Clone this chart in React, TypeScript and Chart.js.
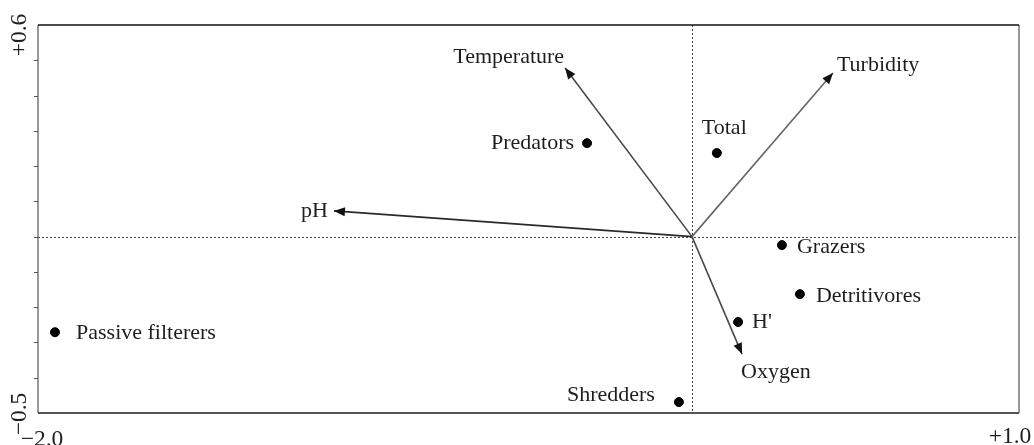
import React, { useEffect, useRef } from "react";
import { Chart, registerables } from "chart.js";

Chart.register(...registerables);

// ---- Data ----
const speciesNames = ["Predators", "Total", "Grazers", "Detritivores", "H'", "Passive filterers", "Shredders"];
const speciesX = [-0.321, 0.076, 0.275, 0.33, 0.141, -1.948, -0.04];
const speciesY = [0.265, 0.237, -0.024, -0.163, -0.242, -0.271, -0.469];

const envNames = ["Temperature", "Turbidity", "pH", "Oxygen"];
const envX = [-0.388, 0.431, -1.095, 0.153];
const envY = [0.478, 0.464, 0.073, -0.333];

const xMin = -2.0;
const xMax = 1.0;
const yMin = -0.5;
const yMax = 0.6;
const xTickLabels = ["\u22122.0", "+1.0"];
const yTickLabels = ["+0.6", "\u22120.5"];
const yTickMarks = [0.5, 0.4, 0.3, 0.2, 0.1, 0.0, -0.1, -0.2, -0.3, -0.4];

// ---- Styles (label placement) ----
const speciesLabelStyle: { align: CanvasTextAlign; dx: number; dy: number }[] = [
  { align: "right", dx: -13, dy: 0 },
  { align: "left", dx: -15, dy: -25 },
  { align: "left", dx: 15, dy: 2 },
  { align: "left", dx: 16, dy: 2 },
  { align: "left", dx: 14, dy: 0 },
  { align: "left", dx: 21, dy: 1 },
  { align: "right", dx: -24, dy: -7 },
];
const envLabelStyle: { align: CanvasTextAlign; dx: number; dy: number }[] = [
  { align: "right", dx: -1, dy: -11 },
  { align: "left", dx: 4, dy: -8 },
  { align: "right", dx: -6, dy: 0 },
  { align: "left", dx: -1, dy: 18 },
];
const envLineColors = ["#4a4a4a", "#666666", "#2a2a2a", "#4a4a4a"];

const FONT = "22px 'Liberation Serif', 'DejaVu Serif', serif";
const TICK_FONT = "23.5px 'Liberation Serif', 'DejaVu Serif', serif";
const TEXT_COLOR = "#1e1e1e";

const biplotPlugin = {
  id: "biplot",
  beforeDatasetsDraw(chart: any) {
    const { ctx, chartArea, scales } = chart;
    const x0 = scales.x.getPixelForValue(0);
    const y0 = scales.y.getPixelForValue(0);
    ctx.save();
    ctx.strokeStyle = "#444";
    ctx.lineWidth = 1;
    ctx.setLineDash([2, 2]);
    ctx.beginPath();
    ctx.moveTo(Math.round(x0) + 0.5, chartArea.top);
    ctx.lineTo(Math.round(x0) + 0.5, chartArea.bottom);
    ctx.moveTo(chartArea.left, Math.round(y0) + 0.5);
    ctx.lineTo(chartArea.right, Math.round(y0) + 0.5);
    ctx.stroke();
    ctx.restore();
  },
  afterDatasetsDraw(chart: any) {
    const { ctx, scales } = chart;
    const x0 = scales.x.getPixelForValue(0);
    const y0 = scales.y.getPixelForValue(0);
    ctx.save();
    // arrowheads
    ctx.fillStyle = "#111";
    envX.forEach((vx, i) => {
      const px = scales.x.getPixelForValue(vx);
      const py = scales.y.getPixelForValue(envY[i]);
      const ang = Math.atan2(py - y0, px - x0);
      const len = 11;
      const hw = 4.5;
      const bx = px - len * Math.cos(ang);
      const by = py - len * Math.sin(ang);
      ctx.beginPath();
      ctx.moveTo(px, py);
      ctx.lineTo(bx + hw * Math.sin(ang), by - hw * Math.cos(ang));
      ctx.lineTo(bx - hw * Math.sin(ang), by + hw * Math.cos(ang));
      ctx.closePath();
      ctx.fill();
    });
    // labels
    ctx.font = FONT;
    ctx.fillStyle = TEXT_COLOR;
    ctx.textBaseline = "middle";
    speciesNames.forEach((name, i) => {
      const px = scales.x.getPixelForValue(speciesX[i]);
      const py = scales.y.getPixelForValue(speciesY[i]);
      const s = speciesLabelStyle[i];
      ctx.textAlign = s.align;
      ctx.fillText(name, px + s.dx, py + s.dy);
    });
    envNames.forEach((name, i) => {
      const px = scales.x.getPixelForValue(envX[i]);
      const py = scales.y.getPixelForValue(envY[i]);
      const s = envLabelStyle[i];
      ctx.textAlign = s.align;
      ctx.fillText(name, px + s.dx, py + s.dy);
    });
    ctx.restore();
  },
  afterDraw(chart: any) {
    const { ctx, chartArea, scales } = chart;
    const { left, right, top, bottom } = chartArea;
    ctx.save();
    // frame
    ctx.setLineDash([]);
    ctx.lineWidth = 1.5;
    ctx.strokeStyle = "#777";
    ctx.beginPath();
    ctx.moveTo(left, top);
    ctx.lineTo(left, bottom);
    ctx.moveTo(right, top);
    ctx.lineTo(right, bottom);
    ctx.stroke();
    ctx.strokeStyle = "#111";
    ctx.beginPath();
    ctx.moveTo(left, top);
    ctx.lineTo(right, top);
    ctx.stroke();
    ctx.strokeStyle = "#555";
    ctx.lineWidth = 2;
    ctx.beginPath();
    ctx.moveTo(left, bottom);
    ctx.lineTo(right, bottom);
    ctx.stroke();
    // left tick marks
    ctx.strokeStyle = "#555";
    ctx.lineWidth = 1.2;
    ctx.beginPath();
    yTickMarks.forEach((v) => {
      const py = Math.round(scales.y.getPixelForValue(v)) + 0.5;
      ctx.moveTo(left - 4, py);
      ctx.lineTo(left, py);
    });
    ctx.stroke();
    // tick labels
    ctx.font = TICK_FONT;
    ctx.fillStyle = TEXT_COLOR;
    ctx.textAlign = "center";
    ctx.textBaseline = "middle";
    const yTop = scales.y.getPixelForValue(yMax);
    const yBot = scales.y.getPixelForValue(yMin);
    [[yTop + 10, yTickLabels[0]], [yBot + 1, yTickLabels[1]]].forEach(([py, t]: any) => {
      ctx.save();
      ctx.translate(left - 18, py);
      ctx.rotate(-Math.PI / 2);
      ctx.fillText(t, 0, 0);
      ctx.restore();
    });
    const xL = scales.x.getPixelForValue(xMin);
    const xR = scales.x.getPixelForValue(xMax);
    ctx.fillText(xTickLabels[0], xL + 4, bottom + 27);
    ctx.fillText(xTickLabels[1], xR - 9, bottom + 24);
    ctx.restore();
  },
};

export default function App() {
  const canvasRef = useRef<HTMLCanvasElement | null>(null);

  useEffect(() => {
    if (!canvasRef.current) return;
    const datasets: any[] = [
      {
        type: "scatter",
        label: "Groups",
        data: speciesX.map((x, i) => ({ x, y: speciesY[i] })),
        backgroundColor: "#000",
        borderColor: "#000",
        pointRadius: 4.5,
        pointHoverRadius: 4.5,
      },
      ...envNames.map((name, i) => ({
        type: "line",
        label: name,
        data: [
          { x: 0, y: 0 },
          { x: envX[i], y: envY[i] },
        ],
        borderColor: envLineColors[i],
        borderWidth: 1.6,
        pointRadius: 0,
        fill: false,
      })),
    ];
    const chart = new Chart(canvasRef.current, {
      type: "scatter",
      data: { datasets },
      options: {
        responsive: false,
        animation: false,
        layout: { padding: { left: 38, top: 25, right: 15, bottom: 32 } },
        plugins: { legend: { display: false }, tooltip: { enabled: false } },
        scales: {
          x: { type: "linear", min: xMin, max: xMax, display: false },
          y: { type: "linear", min: yMin, max: yMax, display: false },
        },
      },
      plugins: [biplotPlugin],
    } as any);
    return () => chart.destroy();
  }, []);

  return (
    <div style={{ position: "absolute", left: 0, top: 0, width: 1034, height: 445, background: "#fff" }}>
      <canvas ref={canvasRef} width={1034} height={445} style={{ width: 1034, height: 445, display: "block" }} />
    </div>
  );
}
